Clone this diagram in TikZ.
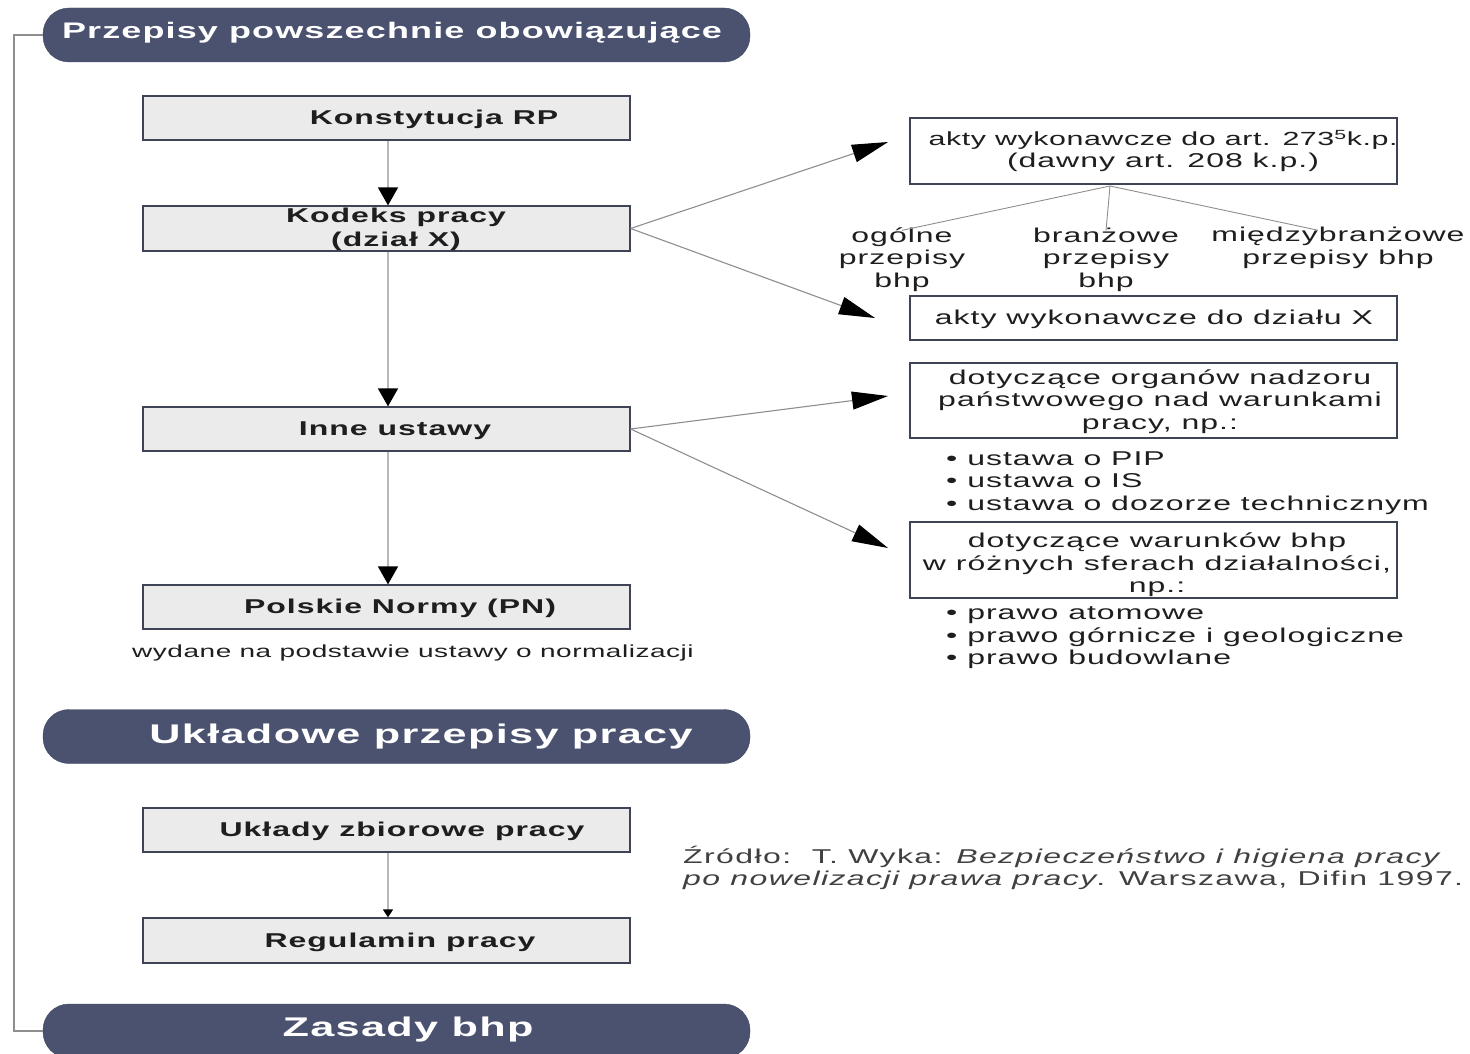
\documentclass[tikz,border=0pt]{standalone}
\usepackage{fontspec}
\setmainfont{Liberation Sans}
\newfontfamily\wf[FakeStretch=1.6,LetterSpace=5]{Liberation Sans}
\newfontfamily\wfs[FakeStretch=1.6,LetterSpace=7]{Liberation Sans}
\newfontfamily\wft[FakeStretch=1.6,LetterSpace=3]{Liberation Sans}
\usetikzlibrary{arrows.meta}
\definecolor{hdrfill}{HTML}{4A5270}
\definecolor{bord}{HTML}{3E4455}
\definecolor{boxfill}{HTML}{EBEBEB}
\definecolor{conngray}{HTML}{B8B8B8}
\definecolor{diaggray}{HTML}{8E8E8E}
\definecolor{txt}{HTML}{1E1E1E}
\begin{document}
\begin{tikzpicture}[x=1pt,y=-1pt,
  hdr/.style={draw=hdrfill!85!black, fill=hdrfill, rounded corners=26pt, minimum width=707pt, minimum height=54pt, inner sep=0pt},
  hdrtxt/.style={text=white, font=\wf\bfseries\fontsize{22.5}{26}\selectfont, inner sep=0pt},
  bighdrtxt/.style={text=white, font=\wf\bfseries\fontsize{27}{30}\selectfont, inner sep=0pt},
  lbox/.style={draw=bord, fill=boxfill, minimum width=487pt, minimum height=44pt, inner sep=0pt, line width=1.2pt},
  boxtxt/.style={font=\wf\bfseries\fontsize{20}{24}\selectfont, align=center, inner sep=0pt, text=txt},
  rbox/.style={draw=bord, fill=white, minimum width=487pt, inner sep=0pt, line width=1.2pt},
  rtxt/.style={font=\wf\fontsize{20}{22.5}\selectfont, align=center, inner sep=0pt, text=txt},
  ltxt/.style={font=\wf\fontsize{20}{22.5}\selectfont, align=left, inner sep=0pt, text=txt},
  conn/.style={draw=conngray, line width=1.6pt, arrows={-{Triangle[length=18pt,width=20pt,color=black]}}},
  diag/.style={draw=diaggray, line width=1.1pt, arrows={-{Triangle[length=36pt,width=18pt,color=black]}}},
  thin/.style={draw=diaggray, line width=0.9pt},
  brk/.style={draw=diaggray, line width=1.4pt}
]
\useasboundingbox (0,0) rectangle (1470,1054);
\clip (0,0) rectangle (1470,1054);

% headers
\node[hdr] (hdr1) at (396.5,35) {};
\node[hdrtxt] (hdr1t) at (392,33) {Przepisy powszechnie obowiązujące};
\node[hdr] (hdr2) at (396.5,736.5) {};
\node[bighdrtxt] (hdr2t) at (421,737) {Układowe przepisy pracy};
\node[hdr] (hdr3) at (396.5,1031) {};
\node[bighdrtxt] (hdr3t) at (408,1030) {Zasady bhp};

% bracket
\draw[brk] (hdr1.west) -- ++(-29,0) |- (hdr3.west);

% left boxes
\node[lbox] (konst) at (386.5,118) {};
\node[boxtxt] (konstt) at (434,119) {Konstytucja RP};
\node[lbox, minimum height=45pt] (kodeks) at (386.5,228.5) {};
\node[boxtxt] (kodekst) at (396,229.5) {Kodeks pracy\\(dział X)};
\node[lbox] (inne) at (386.5,429) {};
\node[boxtxt] (innet) at (395,431) {Inne ustawy};
\node[lbox] (pn) at (386.5,607) {};
\node[boxtxt] (pnt) at (400,608) {Polskie Normy (PN)};
\node[font=\wft\fontsize{17.5}{20}\selectfont, text=txt, inner sep=0pt] (pnnote) at (413,653) {wydane na podstawie ustawy o normalizacji};
\node[lbox] (uzp) at (386.5,830) {};
\node[boxtxt] (uzpt) at (402,831) {Układy zbiorowe pracy};
\node[lbox, minimum height=45pt] (reg) at (386.5,940.5) {};
\node[boxtxt] (regt) at (400,942) {Regulamin pracy};

% vertical arrows
\draw[conn] ([xshift=1.5pt]konst.south) -- ([xshift=1.5pt]kodeks.north);
\draw[conn] ([xshift=1.5pt]kodeks.south) -- ([xshift=1.5pt]inne.north);
\draw[conn] ([xshift=1.5pt]inne.south) -- ([xshift=1.5pt]pn.north);
\draw[draw=conngray, line width=1.4pt, arrows={-{Triangle[length=8pt,width=10pt,color=black]}}] ([xshift=1.5pt]uzp.south) -- ([xshift=1.5pt]reg.north);

% right boxes
\node[rbox, minimum height=66pt] (ra) at (1153.5,151) {};
\node[rtxt] (rat) at (1163,151) {{\wft\fontsize{19}{22.5}\selectfont akty wykonawcze do art. 273\textsuperscript{5}k.p.}\\(dawny art. 208 k.p.)};
\node[rbox, minimum height=44pt] (rb) at (1153.5,318) {};
\node[rtxt] (rbt) at (1154,319) {akty wykonawcze do działu X};
\node[rbox, minimum height=75pt] (rc) at (1153.5,400.5) {};
\node[rtxt] (rct) at (1160,401.5) {dotyczące organów nadzoru\\państwowego nad warunkami\\pracy, np.:};
\node[rbox, minimum height=76pt] (rd) at (1153.5,560) {};
\node[rtxt] (rdt) at (1157,565) {dotyczące warunków bhp\\w różnych sferach działalności,\\np.:};

\node[ltxt, anchor=west] (bul1) at (946,483) {• ustawa o PIP\\• ustawa o IS\\• ustawa o dozorze technicznym};
\node[ltxt, anchor=west] (bul2) at (946,638) {• prawo atomowe\\• prawo górnicze i geologiczne\\• prawo budowlane};

% labels under box A
\coordinate (hub) at (1110,186);
\node[rtxt] (ogol) at (902,259.5) {ogólne\\przepisy\\bhp};
\node[rtxt] (bran) at (1106,259.5) {branżowe\\przepisy\\bhp};
\node[rtxt] (miedzy) at (1338,248) {międzybranżowe\\przepisy bhp};
\draw[thin] (hub) -- ([yshift=-3pt]ogol.north);
\draw[thin] (hub) -- ([yshift=-3pt]bran.north);
\draw[thin] (hub) -- ([xshift=-20pt,yshift=-3pt]miedzy.north);

% diagonal arrows
\coordinate (ta) at (888,142);
\coordinate (tb) at (875,318);
\coordinate (tc) at (888,396);
\coordinate (td) at (888,548);
\draw[diag] (kodeks.east) -- (ta);
\draw[diag] (kodeks.east) -- (tb);
\draw[diag] (inne.east) -- (tc);
\draw[diag] (inne.east) -- (td);

% source
\node[font=\wfs\fontsize{20}{22.5}\selectfont, text=txt!85, align=left, anchor=west, inner sep=0pt] (src) at (683,868)
 {Źródło:\ \ T. Wyka: \textit{Bezpieczeństwo i higiena pracy}\\\textit{po nowelizacji prawa pracy}. Warszawa, Difin 1997.};
\end{tikzpicture}
\end{document}
